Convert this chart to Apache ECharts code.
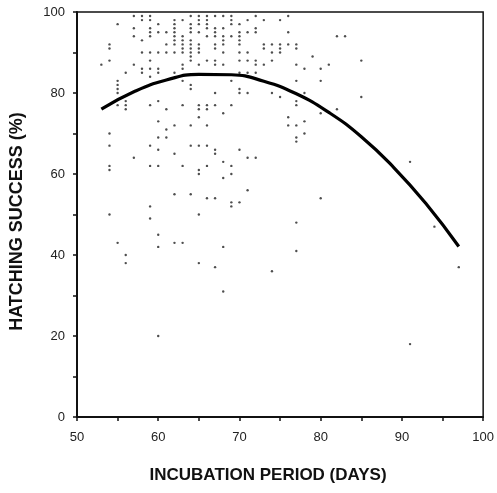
<!DOCTYPE html>
<html>
<head>
<meta charset="utf-8">
<script src="https://cdn.jsdelivr.net/npm/echarts@6/dist/echarts.min.js"></script>
<style>html,body{margin:0;padding:0;background:#fff}#c{width:497px;height:493px}</style>
</head>
<body>
<div id="c"></div>
<script>
// Hatching success (%) levels and the incubation periods (days) of the points at each level
const successLevels = [99, 98, 97, 96, 95, 94, 93, 92, 91, 90, 89, 88, 87, 86, 85, 84, 83, 82, 81, 80,
  79, 78, 77, 76, 75, 74, 73, 72, 71, 70, 69, 68, 67, 66, 65, 64, 63, 62, 61, 60,
  59, 56, 55, 54, 53, 52, 50, 49, 48, 47, 45, 43, 42, 41, 40, 38, 37, 36, 31, 20, 18];
const daysAtLevel = [
  [57, 58, 59, 64, 65, 66, 67, 68, 69, 72, 76],
  [58, 59, 62, 63, 65, 66, 69, 71, 73, 75],
  [55, 60, 62, 64, 65, 66, 69, 70],
  [57, 59, 62, 64, 66, 67, 68, 72],
  [59, 60, 61, 62, 64, 65, 67, 70, 71, 72, 76],
  [57, 59, 62, 63, 66, 67, 68, 69, 70, 82, 83],
  [58, 62, 63, 64, 68, 70],
  [54, 61, 62, 63, 64, 65, 67, 68, 70, 73, 74, 75, 76, 77],
  [54, 63, 64, 65, 67, 73, 75, 77],
  [58, 59, 60, 61, 62, 63, 64, 65, 68, 70, 71, 74, 75],
  [64, 79],
  [54, 59, 64, 66, 67, 70, 71, 72, 74, 85],
  [53, 57, 63, 65, 67, 68, 72, 73, 77, 81],
  [58, 59, 60, 63, 78, 80],
  [56, 58, 60, 62, 70, 71, 72],
  [59],
  [55, 63, 69, 77, 80],
  [55, 64],
  [55, 64, 70],
  [55, 67, 70, 71, 74, 78],
  [75, 85],
  [56, 60, 77],
  [55, 56, 59, 63, 65, 66, 67, 69, 77],
  [56, 61, 65, 66, 82],
  [68, 80],
  [65, 76],
  [60, 78],
  [62, 64, 66, 76, 77],
  [61],
  [54, 78],
  [60, 61, 77],
  [77],
  [54, 59, 64, 65, 66],
  [60, 67, 70],
  [62, 67],
  [57, 71, 72],
  [68, 91],
  [54, 59, 60, 63, 66, 69],
  [54, 65],
  [65, 69],
  [68],
  [71],
  [62, 64],
  [66, 67, 80],
  [69, 70],
  [59, 69],
  [54, 65],
  [59],
  [77],
  [94],
  [60],
  [55, 62, 63],
  [60, 68],
  [77],
  [56],
  [56, 65],
  [67, 97],
  [74],
  [68],
  [60],
  [91]
];
// Fitted curve
const curveDays = [53, 57, 61, 65, 69, 73, 77, 81, 85, 89, 93, 97];
const curveSuccess = [76.0, 80.3, 83.2, 84.6, 84.5, 82.9, 79.8, 75.2, 69.2, 61.6, 52.6, 42.1];
const xTicks = [50, 60, 70, 80, 90, 100];
const yTicks = [0, 20, 40, 60, 80, 100];

const scatterData = [];
successLevels.forEach((s, i) => daysAtLevel[i].forEach(d => scatterData.push([d, s])));
const curveData = curveDays.map((d, i) => [d, curveSuccess[i]]);

const chart = echarts.init(document.getElementById('c'), null, {renderer: 'canvas'});
const font = 'Liberation Sans, Arial, Helvetica, sans-serif';
chart.setOption({
  animation: false,
  backgroundColor: '#fff',
  grid: {left: 77, right: 12, top: 12, bottom: 76, show: true, borderColor: '#111', borderWidth: 1.5, backgroundColor: 'transparent'},
  xAxis: {
    type: 'value', min: 50, max: 100, interval: 5,
    name: 'INCUBATION PERIOD (DAYS)', nameLocation: 'middle', nameGap: 50,
    nameTextStyle: {fontFamily: font, fontWeight: 'bold', fontSize: 17, color: '#111', padding: [0, 24, 0, 0]},
    axisLine: {show: true, lineStyle: {color: '#111', width: 2}},
    axisTick: {show: true, length: 4, lineStyle: {color: '#111', width: 1.5}},
    splitLine: {show: false},
    axisLabel: {fontFamily: font, fontSize: 13, color: '#222', margin: 14,
      formatter: v => xTicks.includes(v) ? String(v) : ''}
  },
  yAxis: {
    type: 'value', min: 0, max: 100, interval: 10,
    name: 'HATCHING SUCCESS (%)', nameLocation: 'middle', nameGap: 51,
    nameTextStyle: {fontFamily: font, fontWeight: 'bold', fontSize: 18, color: '#111', padding: [0, 14, 0, 0]},
    axisLine: {show: true, lineStyle: {color: '#111', width: 2}},
    axisTick: {show: true, length: 4, lineStyle: {color: '#111', width: 1.5}},
    splitLine: {show: false},
    axisLabel: {fontFamily: font, fontSize: 13, color: '#222', margin: 12,
      formatter: v => yTicks.includes(v) ? String(v) : ''}
  },
  series: [
    {type: 'scatter', data: scatterData, symbol: 'circle', symbolSize: 2.4,
     itemStyle: {color: '#222'}, silent: true, z: 2},
    {type: 'line', data: curveData, smooth: 0.5, showSymbol: false,
     lineStyle: {color: '#000', width: 3.2}, silent: true, z: 3}
  ]
});
</script>
</body>
</html>
